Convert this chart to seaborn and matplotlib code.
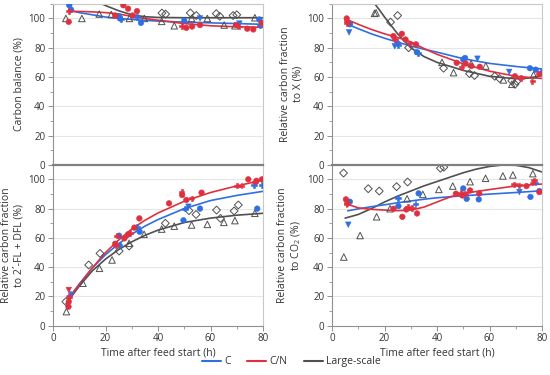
import matplotlib
matplotlib.use("Agg")
import matplotlib.pyplot as plt
import seaborn as sns
import pandas as pd
from matplotlib.lines import Line2D
from matplotlib.ticker import MultipleLocator

# ---- carbon balance ----
cb_c_x = [6.2, 6.9, 25.1, 25.5, 25.8, 32, 33.5, 50, 56, 71, 78.6, 78.8]
cb_c_y = [109, 106, 101.6, 100, 99.5, 101, 97, 98.5, 100, 96.5, 99.3, 95.5]
cb_c_m = "ooooPPoovvoP"
cb_cn_x = [6.0, 6.2, 23.7, 26.8, 28.6, 30.3, 32, 49, 50.8, 53, 56, 69.8, 71, 74, 76.3, 79.5]
cb_cn_y = [97.7, 105, 102, 109, 106.7, 102, 105, 95, 93.6, 94.5, 95.5, 95.5, 94.5, 93, 92.5, 97]
cb_cn_m = "oPoooooPooooPooo"
cb_ls_dia_x = [41.5, 42.9, 52.3, 54.6, 62.2, 63.5, 68.6, 70]
cb_ls_dia_y = [103.7, 103, 103.8, 102, 103.3, 101.5, 102, 102.5]
cb_ls_tri_x = [4.9, 11, 17.6, 22.2, 29.1, 34.8, 41.4, 46.2, 52.8, 58.8, 65.2, 69.3, 76.9]
cb_ls_tri_y = [100, 100, 103, 102.7, 100, 100, 98, 95, 100, 100, 95.5, 95, 100.5]
cb_fit_t = [6, 10, 15, 20, 25, 30, 35, 40, 50, 60, 70, 80]
cb_fit_c = [105.5, 104, 102.5, 101, 100, 99.3, 98.7, 98.2, 97.5, 97, 96.5, 96]
cb_fit_cn = [105, 104.8, 104.5, 104, 103, 101.5, 100, 98.8, 96.5, 95, 94.3, 94]
cb_fit_ls_t = [5, 10, 15, 18, 20, 25, 30, 35, 40, 50, 60, 70, 80]
cb_fit_ls = [126, 119, 113.5, 110.5, 108.8, 105.3, 102.5, 101.2, 100.7, 100.5, 100.5, 100.5, 100.5]

# ---- fraction to X ----
x_c_x = [6.5, 6.8, 6.6, 23.9, 25, 25.3, 32.3, 32.8, 50, 50.7, 55.4, 67.5, 75.4, 77.6, 79.5]
x_c_y = [90.5, 96, 97, 81, 83, 81.6, 77, 76.5, 72, 73, 72.5, 63.5, 66, 65, 63.5]
x_c_m = "voPvoPoPoovvooP"
x_cn_x = [5.6, 5.7, 5.8, 23.4, 23.9, 26.6, 28, 29.8, 32, 47.5, 49.4, 50.9, 53.1, 56.3, 69.7, 72, 76.3, 79]
x_cn_y = [100, 98.4, 97, 88, 86, 89.5, 85.6, 83, 82.3, 69.7, 67, 69.2, 67.5, 67, 60.5, 59.3, 57, 62]
x_cn_m = "oPPoPooPooPooooPPo"
x_ls_dia_x = [22.3, 25, 29.2, 42.5, 52.4, 54.3, 62, 63.8, 68.5, 69.7, 70.4]
x_ls_dia_y = [97.5, 102, 80, 66, 62.3, 61, 60.5, 59, 57.5, 55, 57]
x_ls_tri_x = [16.2, 16.8, 41.9, 46.3, 53, 58.6, 65.3, 68.5, 76.8]
x_ls_tri_y = [103.5, 103.8, 70, 63, 69, 67.5, 58, 55, 61.5]
x_fit_t = [6, 10, 15, 20, 25, 30, 35, 40, 50, 60, 70, 80]
x_fit_c = [96, 93, 89.5, 86.5, 83.8, 81.2, 79, 77, 72.5, 69.3, 67.2, 65.5]
x_fit_cn = [99, 96, 92.5, 89.5, 87, 84, 79.5, 75.5, 69, 64, 60.5, 59]
x_fit_ls_t = [15, 18, 20, 25, 30, 35, 40, 50, 60, 70, 75, 80]
x_fit_ls = [113, 106, 101, 89.5, 80, 74, 70, 64.5, 60.5, 58.8, 59.3, 61]

# ---- fraction to 2'-FL + DFL ----
fl_c_x = [6.3, 6.6, 25.2, 25.4, 32, 33, 49.7, 50.3, 51.6, 56, 76.5, 77.8, 79.6]
fl_c_y = [18.7, 22, 61.5, 55, 67.4, 64.2, 72, 80, 81.3, 80, 96, 80, 96]
fl_c_m = "vPoPPooPvoPoP"
fl_cn_x = [5.9, 6.0, 6.1, 6.0, 23.7, 24, 24.3, 27.2, 28.6, 29.3, 31, 32.9,
           44.2, 49, 49.2, 50.8, 52.8, 56.6, 70, 71.8, 74.4, 76.9, 77.5, 79.6]
fl_cn_y = [13, 16.4, 19.8, 24.4, 56, 55, 61.5, 59.7, 62.4, 63.5, 67, 73.3,
           83.6, 91.6, 89.3, 85.9, 87, 90.9, 95.7, 95.7, 100, 98.4, 99, 100]
fl_cn_m = "ooPvoPPooPoooPooPoPPoPoo"
fl_ls_dia_x = [4.9, 13.6, 17.9, 25.2, 29, 42.8, 51.8, 54.5, 62.3, 63.8, 69, 70.6]
fl_ls_dia_y = [16.4, 41.5, 49.4, 51, 54.4, 70, 78.6, 76, 79, 73.3, 78.4, 82.5]
fl_ls_tri_x = [5.1, 11.4, 17.7, 22.5, 29, 34.7, 41.4, 46.2, 52.8, 58.8, 65.1, 69.3, 76.9]
fl_ls_tri_y = [9.6, 29, 39.2, 44.9, 56.3, 62.4, 66, 68, 68.8, 69.2, 70.6, 71.8, 76.8]
fl_fit_t = [6, 10, 15, 20, 25, 30, 35, 40, 50, 60, 70, 80]
fl_fit_c = [19, 28.5, 39.5, 48.5, 56, 62.5, 68, 72.5, 80, 85.5, 89, 91.8]
fl_fit_cn = [18, 28, 39.5, 50, 58.5, 66, 72, 77, 85, 91, 95.5, 99.5]
fl_fit_ls_t = [5, 10, 15, 20, 25, 30, 35, 40, 50, 60, 70, 80]
fl_fit_ls = [15, 27, 37.5, 45.5, 52, 57.3, 61.7, 65.3, 70.5, 73.5, 75.5, 76.8]

# ---- fraction to CO2 ----
co_c_x = [6.2, 6.8, 25.2, 25.3, 31.8, 33, 50, 51.3, 55.9, 71.4, 75.6, 77.5, 79]
co_c_y = [69, 84.7, 87.4, 81.7, 83.3, 90.4, 93.8, 86.7, 86.3, 91.3, 88, 97.7, 92]
co_c_m = "voPoPoooovoPo"
co_cn_x = [5.3, 5.5, 5.8, 23.4, 26.8, 28.3, 28.9, 30.5, 32.4, 47.2, 49.1, 49.6,
           50.6, 52.6, 56.1, 69.4, 71.3, 74.1, 76.4, 77, 79]
co_cn_y = [86.3, 82.8, 84, 79.9, 74.4, 79.4, 81, 80.5, 76.7, 90.2, 90.8, 89,
           90.2, 92.4, 90.4, 96.6, 95.9, 95.4, 97.7, 99.3, 91.3]
co_cn_m = "oPPoooPPooPoPooPPoPPo"
co_ls_dia_x = [4.4, 13.8, 18, 24.6, 28.8, 41.3, 42.6]
co_ls_dia_y = [104.3, 93.6, 92, 95, 98.2, 107.6, 108.3]
co_ls_tri_x = [4.5, 10.7, 17, 22.1, 28.6, 34.6, 40.7, 46, 52.6, 58.5, 65.1, 68.9, 76.5]
co_ls_tri_y = [46.9, 61.6, 74.4, 79.9, 86.7, 89.7, 93.1, 95.4, 98.4, 100.7, 102.3, 103, 103.9]
co_fit_t = [6, 10, 15, 20, 25, 30, 35, 40, 50, 60, 70, 80]
co_fit_c = [78.5, 79.8, 81.3, 82.6, 84, 85.2, 86.4, 87.4, 88.8, 89.9, 91, 92.2]
co_fit_cn_t = [5, 10, 15, 20, 25, 30, 35, 40, 45, 50, 55, 60, 70, 80]
co_fit_cn = [83.5, 80.5, 79.5, 79, 78.6, 79, 81, 84.5, 88, 90.3, 91.7, 93, 95.5, 96.8]
co_fit_ls_t = [5, 10, 15, 20, 25, 30, 35, 40, 45, 50, 55, 60, 65, 70, 75, 80]
co_fit_ls = [73.5, 76, 80, 84.5, 88.5, 92, 95.5, 98.5, 101.5, 104.5, 107, 108.8, 109.8, 109.6, 108, 105]

BLUE = "#2f6fe4"
RED = "#e0303f"
GREY = "#505050"

sns.set_theme(style="white")
plt.rcParams['font.family'] = ['Open Sans', 'DejaVu Sans']
plt.rcParams['mathtext.default'] = 'regular'
FS = 7


def draw_points(ax, xs, ys, ms, color):
    assert len(xs) == len(ys) == len(ms)
    df = pd.DataFrame({"t": xs, "v": ys, "m": list(ms)})
    sns.scatterplot(data=df, x="t", y="v", style="m",
                    markers={"o": "o", "v": "v", "P": "P"},
                    color=color, s=16, edgecolor=color, linewidth=0.4,
                    legend=False, ax=ax, zorder=3)


def draw_panel(ax, c, cn, dia, tri, fits, ylabel, bottom):
    for t, v, col in fits:
        sns.lineplot(x=t, y=v, color=col, lw=1.2, estimator=None, ax=ax, zorder=2)
    sns.scatterplot(x=dia[0], y=dia[1], marker="D", s=16, facecolor="none",
                    edgecolor=GREY, linewidth=0.7, ax=ax, zorder=3)
    sns.scatterplot(x=tri[0], y=tri[1], marker="^", s=22, facecolor="none",
                    edgecolor=GREY, linewidth=0.7, ax=ax, zorder=3)
    draw_points(ax, *c, BLUE)
    draw_points(ax, *cn, RED)

    ax.set_xlim(0, 80)
    ax.set_ylim(0, 110)
    ax.xaxis.set_major_locator(MultipleLocator(20))
    ax.xaxis.set_minor_locator(MultipleLocator(10))
    ax.yaxis.set_major_locator(MultipleLocator(20))
    ax.yaxis.set_minor_locator(MultipleLocator(10))
    ax.set_axisbelow(True)
    ax.yaxis.grid(True, which="major", color="#e6e6e6", lw=0.8)
    ax.tick_params(axis="both", which="major", direction="out", length=3.5,
                   width=0.7, color="#909090", labelsize=FS, labelcolor="#333333", pad=2)
    ax.tick_params(axis="both", which="minor", direction="out", length=2,
                   width=0.6, color="#909090")
    ax.tick_params(left=True, bottom=True, which="both")
    ax.set_ylabel(ylabel, fontsize=FS + 0.5, color="#333333", labelpad=3)
    for side in ["top", "right"]:
        ax.spines[side].set_color("#c8c8c8")
        ax.spines[side].set_linewidth(0.8)
    ax.spines["left"].set_color("#909090")
    ax.spines["left"].set_linewidth(0.8)
    if bottom:
        ax.spines["top"].set_visible(False)
        ax.spines["bottom"].set_color("#909090")
        ax.spines["bottom"].set_linewidth(0.8)
        ax.set_xlabel("Time after feed start (h)", fontsize=FS + 0.5,
                      color="#333333", labelpad=2)
    else:
        ax.spines["bottom"].set_color("#808080")
        ax.spines["bottom"].set_linewidth(1.6)
        ax.tick_params(axis="x", which="both", bottom=False, labelbottom=False)
        ax.set_xlabel("")


fig = plt.figure(figsize=(5.5, 3.75), dpi=100)
w = 210 / 550
h = 0.4293
ax3 = fig.add_axes([53 / 550, 0.1315, w, h])
ax4 = fig.add_axes([332 / 550, 0.1315, w, h])
ax1 = fig.add_axes([53 / 550, 0.5605, w, h])
ax2 = fig.add_axes([332 / 550, 0.5605, w, h])

draw_panel(ax1, (cb_c_x, cb_c_y, cb_c_m), (cb_cn_x, cb_cn_y, cb_cn_m),
           (cb_ls_dia_x, cb_ls_dia_y), (cb_ls_tri_x, cb_ls_tri_y),
           [(cb_fit_ls_t, cb_fit_ls, GREY), (cb_fit_t, cb_fit_c, BLUE), (cb_fit_t, cb_fit_cn, RED)],
           "Carbon balance (%)", False)
draw_panel(ax2, (x_c_x, x_c_y, x_c_m), (x_cn_x, x_cn_y, x_cn_m),
           (x_ls_dia_x, x_ls_dia_y), (x_ls_tri_x, x_ls_tri_y),
           [(x_fit_ls_t, x_fit_ls, GREY), (x_fit_t, x_fit_c, BLUE), (x_fit_t, x_fit_cn, RED)],
           "Relative carbon fraction\nto X (%)", False)
draw_panel(ax3, (fl_c_x, fl_c_y, fl_c_m), (fl_cn_x, fl_cn_y, fl_cn_m),
           (fl_ls_dia_x, fl_ls_dia_y), (fl_ls_tri_x, fl_ls_tri_y),
           [(fl_fit_ls_t, fl_fit_ls, GREY), (fl_fit_t, fl_fit_c, BLUE), (fl_fit_t, fl_fit_cn, RED)],
           "Relative carbon fraction\nto 2´-FL + DFL (%)", True)
draw_panel(ax4, (co_c_x, co_c_y, co_c_m), (co_cn_x, co_cn_y, co_cn_m),
           (co_ls_dia_x, co_ls_dia_y), (co_ls_tri_x, co_ls_tri_y),
           [(co_fit_ls_t, co_fit_ls, GREY), (co_fit_t, co_fit_c, BLUE), (co_fit_cn_t, co_fit_cn, RED)],
           "Relative carbon fraction\nto CO$_2$ (%)", True)

handles = [Line2D([], [], color=BLUE, lw=1.5),
           Line2D([], [], color=RED, lw=1.5),
           Line2D([], [], color=GREY, lw=1.5)]
fig.legend(handles, ["C", "C/N", "Large-scale"], loc="center",
           bbox_to_anchor=(0.53, 0.035), ncol=3, frameon=False,
           fontsize=FS + 0.5, handlelength=1.8, handletextpad=0.3,
           columnspacing=1.6, labelcolor="#333333")

fig.savefig("out.png", dpi=100)
